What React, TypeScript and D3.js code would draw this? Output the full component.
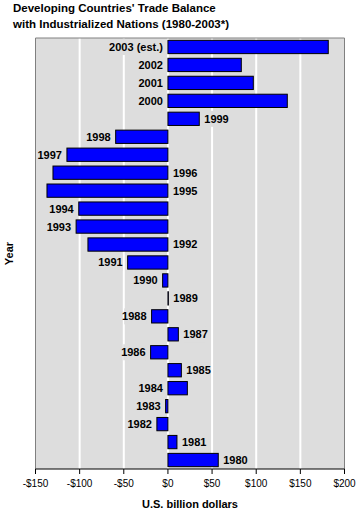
import React from "react";
import * as d3 from "d3";

const years = [
  "1980", "1981", "1982", "1983", "1984", "1985", "1986", "1987", "1988", "1989",
  "1990", "1991", "1992", "1993", "1994", "1995", "1996", "1997", "1998", "1999",
  "2000", "2001", "2002", "2003 (est.)",
];
const balance = [
  57, 10.2, -12.5, -2.6, 22, 15.2, -19.6, 11.8, -18.5, 0.5,
  -6, -45.6, -90.6, -104, -101, -137, -130.2, -114.4, -59.2, 35.5,
  135.2, 96.7, 83.1, 181.6,
];
// which side of the bar the year label sits on
const labelSide = [
  "R", "R", "L", "L", "L", "R", "L", "R", "L", "R",
  "L", "L", "R", "L", "L", "R", "R", "L", "L", "R",
  "L", "L", "L", "L",
];
const xTicks = [-150, -100, -50, 0, 50, 100, 150, 200];
const titleLines = [
  "Developing Countries' Trade Balance",
  "with Industrialized Nations (1980-2003*)",
];
const xTitle = "U.S. billion dollars";
const yTitle = "Year";

const W = 360;
const H = 515;
const plot = { left: 35.5, right: 344.5, top: 38, bottom: 469 };
const FONT = "'Liberation Sans', Arial, sans-serif";

export default function App() {
  const x = d3.scaleLinear().domain([-150, 200]).range([plot.left, plot.right]);
  const y = d3
    .scaleBand<string>()
    .domain([...years].reverse())
    .range([plot.top, plot.bottom])
    .paddingInner(0.26)
    .paddingOuter(0.13);
  const fmt = (v: number) => (v < 0 ? "-$" + Math.abs(v) : "$" + v);
  const x0 = x(0);

  return (
    <div style={{ position: "absolute", left: 0, top: 0 }}>
      <svg width={W} height={H} style={{ display: "block", background: "#fff" }}>
        {titleLines.map((t, i) => (
          <text key={i} x={13} y={11.5 + i * 16} fontFamily={FONT} fontWeight="bold" fontSize={11.5} fill="#000">
            {t}
          </text>
        ))}
        <rect x={plot.left} y={plot.top} width={plot.right - plot.left} height={plot.bottom - plot.top} fill="#dddddd" />
        {xTicks.slice(1, -1).map((t) => (
          <line key={t} x1={x(t)} x2={x(t)} y1={plot.top} y2={plot.bottom} stroke="#fff" strokeWidth={2} />
        ))}
        {years.map((yr, i) => {
          const v = balance[i];
          const cy = (y(yr) as number) + y.bandwidth() / 2;
          const side = labelSide[i];
          const lx = side === "L" ? Math.min(x(v), x0) - 5 : Math.max(x(v), x0) + 5;
          const tw = yr.length * 5.6;
          return (
            <g key={yr}>
              <rect
                x={side === "L" ? lx - tw : lx}
                y={cy - 8}
                width={tw}
                height={16}
                fill="#dddddd"
              />
            </g>
          );
        })}
        {years.map((yr, i) => {
          const v = balance[i];
          const by = y(yr) as number;
          return (
            <rect
              key={yr}
              x={Math.min(x(v), x0)}
              y={by}
              width={Math.abs(x(v) - x0)}
              height={y.bandwidth()}
              fill="#0000ff"
              stroke="#000"
              strokeWidth={1}
            />
          );
        })}
        {years.map((yr, i) => {
          const v = balance[i];
          const cy = (y(yr) as number) + y.bandwidth() / 2;
          const side = labelSide[i];
          const lx = side === "L" ? Math.min(x(v), x0) - 5 : Math.max(x(v), x0) + 5;
          return (
            <text
              key={yr}
              x={lx}
              y={cy}
              dy="0.36em"
              textAnchor={side === "L" ? "end" : "start"}
              fontFamily={FONT}
              fontWeight="bold"
              fontSize={11}
              fill="#000"
            >
              {yr}
            </text>
          );
        })}
        <path
          d={`M${plot.left},${plot.bottom}V${plot.top}H${plot.right}V${plot.bottom}`}
          fill="none"
          stroke="#808080"
          strokeWidth={1}
        />
        <line x1={plot.left} x2={plot.right} y1={plot.bottom} y2={plot.bottom} stroke="#000" strokeWidth={1} />
        {xTicks.map((t) => (
          <g key={t}>
            <line x1={x(t)} x2={x(t)} y1={plot.bottom} y2={plot.bottom + 5} stroke="#000" />
            <text x={x(t)} y={487} textAnchor="middle" fontFamily={FONT} fontSize={10} fill="#000">
              {fmt(t)}
            </text>
          </g>
        ))}
        <text x={(plot.left + plot.right) / 2} y={508} textAnchor="middle" fontFamily={FONT} fontWeight="bold" fontSize={11} fill="#000">
          {xTitle}
        </text>
        <text
          transform={`translate(12.5,${(plot.top + plot.bottom) / 2}) rotate(-90)`}
          textAnchor="middle"
          fontFamily={FONT}
          fontWeight="bold"
          fontSize={11}
          fill="#000"
        >
          {yTitle}
        </text>
      </svg>
    </div>
  );
}
